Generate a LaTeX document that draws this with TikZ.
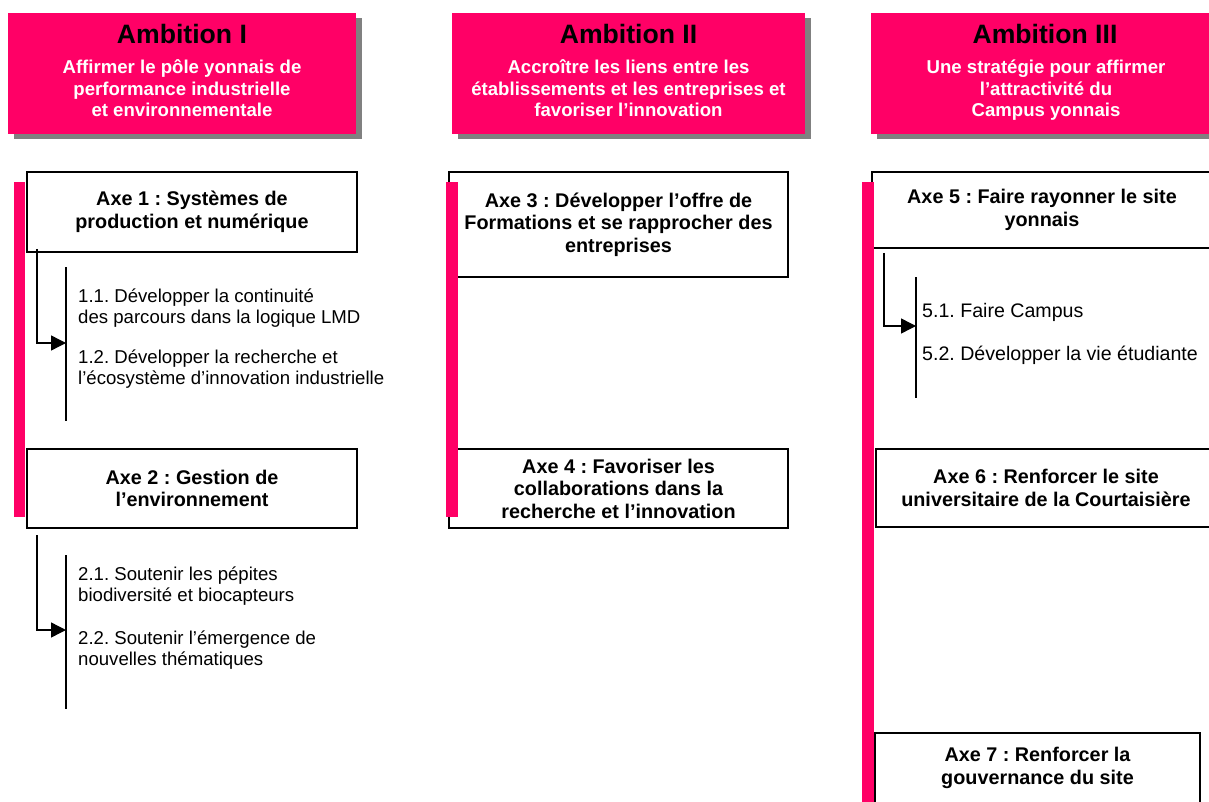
\documentclass[tikz,border=0pt]{standalone}
\usepackage{fontspec}
\setmainfont{Liberation Sans}
\usetikzlibrary{arrows.meta,shadows}
\definecolor{pinkA}{RGB}{255,0,102}
\definecolor{shadowgray}{RGB}{128,128,128}
\frenchspacing
\begin{document}
\frenchspacing
\begin{tikzpicture}[x=1pt,y=-1pt,
  ambbox/.style={fill=pinkA, draw=none, minimum height=121pt, inner sep=0pt,
    general shadow={shadow xshift=6pt, shadow yshift=-5pt, fill=shadowgray}},
  ambtitle/.style={anchor=base, inner sep=0pt, font=\bfseries\fontsize{26.6}{30}\selectfont, text=black},
  ambsub/.style={anchor=base, inner sep=0pt, align=center, font=\bfseries\fontsize{18.6}{21.5}\selectfont, text=white},
  axefont/.style={align=center, font=\bfseries\fontsize{19.8}{22.5}\selectfont},
  axebox/.style={draw=black, line width=1.3pt, fill=white, inner sep=0pt, axefont},
  subtext/.style={anchor=base west, inner sep=0pt, align=left, font=\fontsize{18.6}{21}\selectfont},
  subline/.style={line width=1.4pt},
  conn/.style={line width=1.4pt, -{Triangle[length=15pt,width=15pt]}},
  pinkbar/.style={fill=pinkA}
]
\clip (0,0) rectangle (1209,802);
\fill[white] (0,0) rectangle (1209,802);

% Ambition headers
\node[ambbox, minimum width=348pt] (amb1) at (182,73.5) {};
\node[ambtitle] (amb1t) at (182,44) {Ambition I};
\node[ambsub] (amb1s) at (182,117) {Affirmer le pôle yonnais de\\performance industrielle\\et environnementale};

\node[ambbox, minimum width=353pt] (amb2) at (628.5,73.5) {};
\node[ambtitle] (amb2t) at (628.5,44) {Ambition II};
\node[ambsub] (amb2s) at (628.5,117) {Accroître les liens entre les\\établissements et les entreprises et\\favoriser l’innovation};

\node[ambbox, minimum width=353pt] (amb3) at (1047.5,73.5) {};
\node[ambtitle] (amb3t) at (1045,44) {Ambition III};
\node[ambsub] (amb3s) at (1046,117) {Une stratégie pour affirmer\\l’attractivité du\\Campus yonnais};

% Column 1
\node[axebox, minimum width=330pt, minimum height=80pt] (axe1) at (192,212) {Axe 1 : Systèmes de\\production et numérique};
\node[axebox, minimum width=330pt, minimum height=79pt] (axe2) at (192,488.5) {Axe 2 : Gestion de\\l’environnement};
\fill[pinkbar] (14,182) rectangle (25,517);

\coordinate (s1t) at (66,267);
\coordinate (s1b) at (66,421);
\coordinate (s1m) at (66,343);
\coordinate (a1) at (37,249);
\draw[subline] (s1t) -- (s1b);
\draw[conn] (a1) |- (s1m);
\node[subtext] (t11) at (78,323.5) {1.1. Développer la continuité\\des parcours dans la logique LMD};
\node[subtext] (t12) at (78,384.5) {1.2. Développer la recherche et\\l’écosystème d’innovation industrielle};

\coordinate (s2t) at (66,555);
\coordinate (s2b) at (66,709);
\coordinate (s2m) at (66,630);
\coordinate (a2) at (37,535);
\draw[subline] (s2t) -- (s2b);
\draw[conn] (a2) |- (s2m);
\node[subtext] (t21) at (78,601.5) {2.1. Soutenir les pépites\\biodiversité et biocapteurs};
\node[subtext] (t22) at (78,665) {2.2. Soutenir l’émergence de\\nouvelles thématiques};

% Column 2
\node[axebox, minimum width=339pt, minimum height=105pt] (axe3) at (618.5,224.5) {Axe 3 : Développer l’offre de\\Formations et se rapprocher des\\entreprises};
\node[axebox, minimum width=339pt, minimum height=79pt] (axe4) at (618.5,488.5) {Axe 4 : Favoriser les\\collaborations dans la\\recherche et l’innovation};
\fill[pinkbar] (446,182) rectangle (458,517);

% Column 3
\node[axebox, minimum width=340pt, minimum height=76pt] (axe5) at (1042,210) {Axe 5 : Faire rayonner le site\\yonnais};
\node[axebox, minimum width=340pt, minimum height=78pt] (axe6) at (1046,488) {Axe 6 : Renforcer le site\\universitaire de la Courtaisière};
\node[axebox, minimum width=325pt, minimum height=82pt,
  label={[axefont, inner sep=0pt, yshift=6pt]center:Axe 7 : Renforcer la\\gouvernance du site}] (axe7) at (1037.5,774) {};
\fill[pinkbar] (862,182) rectangle (874,802);

\coordinate (s5t) at (916,277);
\coordinate (s5b) at (916,398);
\coordinate (s5m) at (916,326);
\coordinate (a5) at (884,253);
\draw[subline] (s5t) -- (s5b);
\draw[conn] (a5) |- (s5m);
\node[subtext, font=\fontsize{19.6}{21}\selectfont] (t51) at (922,317) {5.1. Faire Campus};
\node[subtext, font=\fontsize{19.6}{21}\selectfont] (t52) at (922,360) {5.2. Développer la vie étudiante};
\end{tikzpicture}
\end{document}
